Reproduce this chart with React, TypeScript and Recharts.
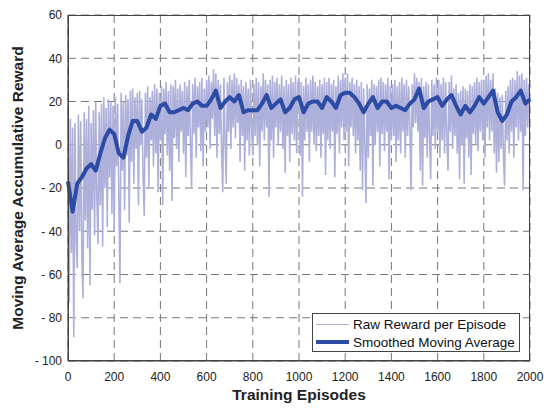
import React from "react";
import { LineChart, Line, XAxis, YAxis, CartesianGrid } from "recharts";

const RAW_STEP = 5;
const SMOOTH_STEP = 20;

// raw reward, one sample every RAW_STEP episodes (one row = 200 episodes)
const rawReward = [
  17, -73, 12, -50, 8, -89, 10, -45, -57, 14, -40, 11, -52, -71, 15, -35, 12, -48, 18, -65, 10, -30, 16, -42, 20, -25, -46, 15, -28, 19, -47, 22, -20, 17, -38, 21, -15, 20, -32, 18,
  -40, 22, -10, 19, -25, -64, 24, -12, 20, -30, 23, -5, 21, -36, 25, -8, 26, -18, 22, -2, 24, -28, 25, 0, 21, -15, -33, 24, -6, 27, -20, 22, 2, 25, -10, 28, -4, 26, -22, 24,
  2, 27, -28, 26, 5, 29, -5, 25, -12, 28, -26, 27, 3, 30, -2, 26, -8, 28, 6, 25, -4, 29, -15, 27, 4, 30, 0, -20, 28, 5, 31, -6, 27, 8, 29, -3, 31, -10, 26, 6,
  30, 8, 32, -2, 29, 12, 35, 4, 33, -6, 30, 5, 28, -4, -22, 31, 2, -18, 29, 6, 32, -2, 30, 8, 33, 3, 31, 10, 28, -8, 30, 4, 27, -12, 29, 2, 26, -5, 30, 6,
  -5, 28, 4, 31, 0, 29, -10, 27, 6, 33, 2, 30, 8, 28, -24, 30, 2, 32, -6, 29, 8, 31, 0, 28, 6, 32, -2, 27, -13, 30, 4, 28, -8, 31, 5, 29, 2, 32, -4, 28,
  31, -5, 29, -24, 27, 2, 31, 6, 28, -8, 30, 6, 32, 0, 29, -3, 27, 4, 30, -6, 28, 5, 31, -14, 29, 2, 31, -2, 28, 6, 30, -15, 27, 5, 32, -4, 30, 8, 33, 2,
  31, 6, 33, -10, 29, 8, 31, 4, 28, -4, 30, 2, 27, -12, 29, -21, 26, 0, -27, 28, -6, 26, 4, 30, -19, 28, 0, 27, 6, 30, -10, 31, 5, 29, -3, 28, 6, 31, -16, 27,
  2, 28, 4, 30, -8, 27, 2, 29, -4, 31, 6, 28, -6, 30, 4, 27, 8, -21, 28, 8, 33, 10, 31, 6, 29, -12, 31, -19, 27, 3, 29, -6, 28, 4, -16, 30, 4, 28, -2, 31,
  6, 30, -6, 28, 2, 31, -4, 29, 5, -12, 29, 6, 32, -2, 26, 4, 28, -4, 24, -16, 25, 0, 27, -18, 26, 3, 25, -6, 28, -14, 27, 5, 29, 0, 31, -3, 29, 6, 30, 2,
  30, -6, 32, 8, 33, 2, 30, 6, 33, -4, 26, -13, 24, -8, 22, -2, 23, -5, -19, 25, 2, 27, -4, 30, 6, 31, -6, 30, 8, 34, 2, 32, 6, 33, -21, 30, 4, 31, 8, 28,
  20,
];

// moving average, one sample every SMOOTH_STEP episodes
const smoothReward = [
  -17, -31, -18, -15, -11, -9, -12, -4, 3, 7,
  5, -4, -6, 4, 11, 11, 6, 8, 14, 12,
  18, 19, 15, 15, 16, 17, 16, 19, 20, 18,
  18, 21, 25, 17, 20, 22, 20, 23, 15, 16,
  16, 16, 19, 23, 17, 19, 21, 15, 17, 21,
  22, 15, 19, 20, 20, 17, 22, 20, 17, 23,
  24, 24, 22, 19, 15, 19, 22, 17, 20, 20,
  17, 18, 17, 16, 19, 21, 26, 17, 20, 21,
  22, 18, 21, 23, 18, 14, 18, 15, 18, 22,
  19, 22, 25, 15, 11, 14, 20, 22, 25, 19,
  21,
];

const xTicks = [0, 200, 400, 600, 800, 1000, 1200, 1400, 1600, 1800, 2000];
const yTicks = [-100, -80, -60, -40, -20, 0, 20, 40, 60];

const rawData = rawReward.map((v, i) => ({ ep: i * RAW_STEP, raw: v }));
const smoothData = smoothReward.map((v, i) => ({ ep: i * SMOOTH_STEP, avg: v }));

const FONT = "Arial, 'Liberation Sans', sans-serif";
const RAW_COLOR = "#aeb0dc";
const AVG_COLOR = "#2b4ba5";

const PLOT = { left: 68, top: 15, width: 462, height: 346 };

const fmtY = (v: number) => (v < 0 ? `- ${-v}` : `${v}`);

function LegendBox() {
  const items = [
    { label: "Raw Reward per Episode", color: RAW_COLOR, w: 1 },
    { label: "Smoothed Moving Average", color: AVG_COLOR, w: 4 },
  ];
  return (
    <div
      style={{
        position: "absolute",
        left: 312,
        top: 313,
        width: 208,
        height: 39,
        border: "1px solid #444",
        background: "#fff",
        boxSizing: "border-box",
        paddingTop: 2,
      }}
    >
      {items.map((it) => (
        <div key={it.label} style={{ display: "flex", alignItems: "center", height: 17.5, fontFamily: FONT, fontSize: 13.5, color: "#111" }}>
          <div style={{ width: 33, height: it.w, background: it.color, marginLeft: 3, marginRight: 4 }} />
          <span>{it.label}</span>
        </div>
      ))}
    </div>
  );
}

export default function App() {
  return (
    <div style={{ position: "absolute", left: 0, top: 0, width: 550, height: 413, background: "#fff" }}>
      <LineChart width={550} height={413} margin={{ top: 15, right: 20, bottom: 22, left: 20 }}>
        <CartesianGrid stroke="#777" strokeDasharray="8 5" />
        <XAxis
          dataKey="ep"
          type="number"
          domain={[0, 2000]}
          ticks={xTicks}
          height={30}
          allowDuplicatedCategory={false}
          tick={{ fill: "#222", fontSize: 12, fontFamily: FONT }}
          tickLine={false}
          tickSize={6}
          tickMargin={5}
          axisLine={{ stroke: "#444" }}
        />
        <YAxis
          type="number"
          domain={[-100, 60]}
          ticks={yTicks}
          width={48}
          tickFormatter={fmtY}
          tick={{ fill: "#222", fontSize: 12, fontFamily: FONT }}
          tickLine={false}
          tickSize={6}
          tickMargin={0}
          axisLine={{ stroke: "#444" }}
        />
        <Line data={rawData} dataKey="raw" stroke={RAW_COLOR} strokeWidth={1.6} dot={false} isAnimationActive={false} />
        <Line data={smoothData} dataKey="avg" stroke={AVG_COLOR} strokeWidth={4} strokeLinejoin="round" dot={false} isAnimationActive={false} />
      </LineChart>
      <div
        style={{
          position: "absolute",
          left: PLOT.left,
          top: PLOT.top,
          width: PLOT.width,
          height: PLOT.height,
          border: "1px solid #444",
          boxSizing: "border-box",
          pointerEvents: "none",
        }}
      />
      <LegendBox />
      <div style={{ position: "absolute", left: 0, top: 386, width: 550, paddingLeft: 48, boxSizing: "border-box", textAlign: "center", fontFamily: FONT, fontWeight: "bold", fontSize: 15.5, color: "#222" }}>
        Training Episodes
      </div>
      <div
        style={{
          position: "absolute",
          left: 18,
          top: 188,
          transform: "translate(-50%, -50%) rotate(-90deg)",
          whiteSpace: "nowrap",
          fontFamily: FONT,
          fontWeight: "bold",
          fontSize: 15.5,
          color: "#222",
        }}
      >
        Moving Average Accumulative Reward
      </div>
    </div>
  );
}
